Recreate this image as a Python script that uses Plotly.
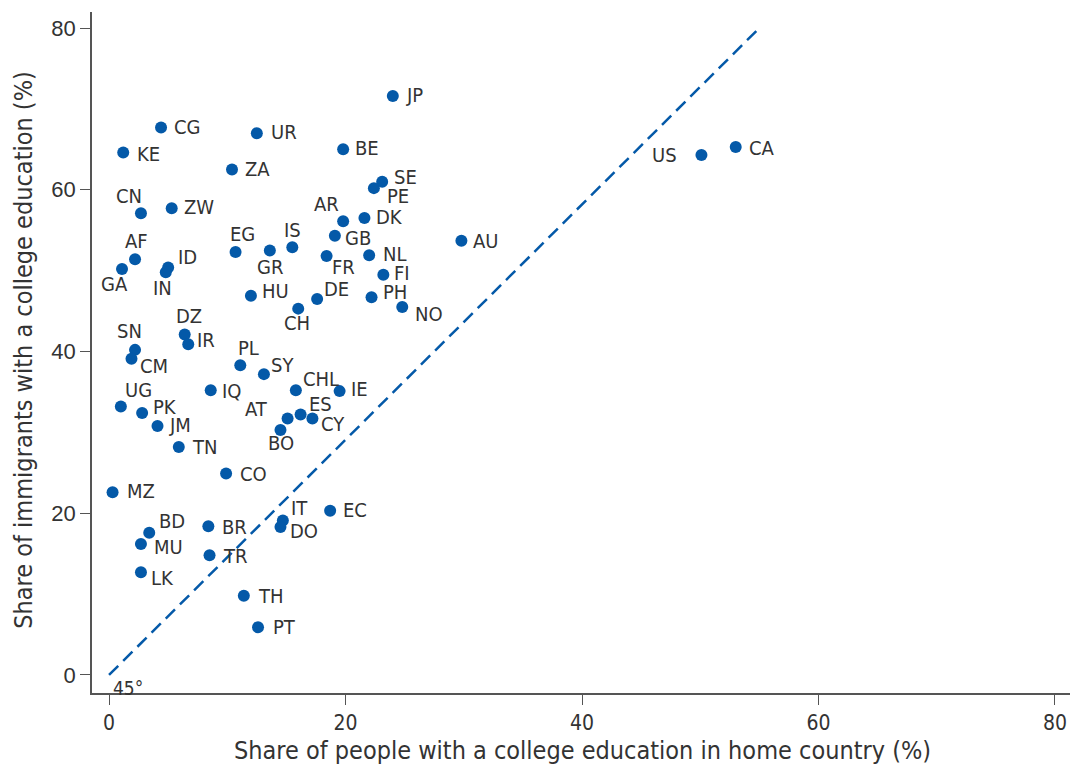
import plotly.graph_objects as go

codes = ["JP","CG","UR","KE","BE","ZA","US","CA","SE","PE","CN","ZW","AR","DK","GB","AU",
         "EG","GR","IS","FR","NL","AF","GA","ID","IN","FI","HU","DE","PH","NO","CH","DZ",
         "IR","SN","CM","PL","SY","IQ","CHL","IE","UG","PK","AT","ES","CY","JM","BO","TN",
         "CO","MZ","EC","IT","DO","BR","BD","MU","TR","LK","TH","PT"]
home_share = [24.0,4.4,12.5,1.2,19.8,10.4,50.1,53.0,23.1,22.4,2.7,5.3,19.8,21.6,19.1,29.8,
              10.7,13.6,15.5,18.4,22.0,2.2,1.1,5.0,4.8,23.2,12.0,17.6,22.2,24.8,16.0,6.4,
              6.7,2.2,1.9,11.1,13.1,8.6,15.8,19.5,1.0,2.8,15.1,16.2,17.2,4.1,14.5,5.9,
              9.9,0.3,18.7,14.7,14.5,8.4,3.4,2.7,8.5,2.7,11.4,12.6]
immig_share = [71.6,67.7,67.0,64.6,65.0,62.5,64.3,65.3,61.0,60.2,57.1,57.7,56.1,56.5,54.3,53.7,
               52.3,52.5,52.9,51.8,51.9,51.4,50.2,50.4,49.8,49.5,46.9,46.5,46.7,45.5,45.3,42.1,
               40.9,40.2,39.1,38.3,37.2,35.2,35.2,35.1,33.2,32.4,31.7,32.2,31.7,30.8,30.3,28.2,
               24.9,22.6,20.3,19.1,18.3,18.4,17.6,16.2,14.8,12.7,9.8,5.9]

diag_x = [0, 55]
diag_y = [0, 80]

x_ticks = [0, 20, 40, 60, 80]
y_ticks = [0, 20, 40, 60, 80]

# label placement (styling): anchor, x offset px, y offset px (down positive)
label_style = {
    "JP": ("l", 12, 0), "CG": ("l", 12, 1), "UR": ("l", 13, 0), "KE": ("l", 13, 2),
    "BE": ("l", 11, 0), "ZA": ("l", 12, 0), "US": ("r", -23, 1), "CA": ("l", 12, 2),
    "SE": ("l", 11, -4), "PE": ("l", 12, 9), "CN": ("c", -12, -16), "ZW": ("l", 11, 0),
    "AR": ("c", -17, -16), "DK": ("l", 11, 0), "GB": ("l", 9, 3), "AU": ("l", 11, 1),
    "EG": ("c", 7, -17), "GR": ("c", 0, 18), "IS": ("c", 0, -16), "FR": ("l", 4, 12),
    "NL": ("l", 13, 0), "AF": ("c", 1, -17), "GA": ("c", -8, 16), "ID": ("l", 9, -9),
    "IN": ("c", -3, 17), "FI": ("l", 10, -1), "HU": ("l", 10, -4), "DE": ("l", 6, -9),
    "PH": ("l", 10, -4), "NO": ("l", 12, 8), "CH": ("c", -1, 15), "DZ": ("c", 4, -18),
    "IR": ("l", 8, -3), "SN": ("c", -6, -18), "CM": ("l", 8, 8), "PL": ("c", 8, -16),
    "SY": ("l", 6, -8), "IQ": ("l", 10, 2), "CHL": ("l", 6, -10), "IE": ("l", 10, -1),
    "UG": ("l", 3, -15), "PK": ("l", 10, -5), "AT": ("r", -19, -9), "ES": ("l", 7, -10),
    "CY": ("l", 8, 6), "JM": ("l", 10, 0), "BO": ("c", 1, 14), "TN": ("l", 12, 1),
    "CO": ("l", 13, 1), "MZ": ("l", 13, 0), "EC": ("l", 12, 0), "IT": ("l", 7, -12),
    "DO": ("l", 9, 5), "BR": ("l", 13, 2), "BD": ("l", 9, -11), "MU": ("l", 12, 4),
    "TR": ("l", 12, 2), "LK": ("l", 9, 7), "TH": ("l", 13, 1), "PT": ("l", 14, 1),
}
ANCH = {"l": "left", "c": "center", "r": "right"}

BLUE = "#0459a8"
TXT = "#333333"
COND = "DejaVu Sans Condensed, Liberation Sans Narrow, sans-serif"

fig = go.Figure()
fig.add_trace(go.Scatter(
    x=diag_x, y=diag_y, mode="lines",
    line=dict(color=BLUE, width=2.5, dash="13px,7px"),
    hoverinfo="skip", showlegend=False,
))
fig.add_trace(go.Scatter(
    x=home_share, y=immig_share, mode="markers",
    text=codes, hovertemplate="%{text}: %{x}, %{y}<extra></extra>",
    marker=dict(color=BLUE, size=12),
    showlegend=False,
))

for c, hx, iy in zip(codes, home_share, immig_share):
    a, dx, dy = label_style.get(c, ("l", 12, 0))
    fig.add_annotation(x=hx, y=iy, xref="x", yref="y", text=c, showarrow=False,
                       xanchor=ANCH[a], yanchor="middle", xshift=dx, yshift=-dy + 1,
                       borderpad=0,
                       font=dict(family=COND, size=20, color=TXT))

fig.add_annotation(x=0, y=0, xref="x", yref="y", text="45°", showarrow=False,
                   xanchor="left", yanchor="top", xshift=3, yshift=-1, borderpad=0,
                   font=dict(family=COND, size=19, color=TXT))

fig.add_annotation(x=40, y=0, xref="x", yref="paper",
                   text="Share of people with a college education in home country (%)",
                   showarrow=False, xanchor="center", yanchor="middle", yshift=-57,
                   font=dict(family=COND, size=25, color=TXT))
fig.add_annotation(x=0, y=0.504, xref="paper", yref="paper",
                   text="Share of immigrants with a college education (%)",
                   showarrow=False, textangle=-90, xanchor="center", yanchor="middle",
                   xshift=-68,
                   font=dict(family=COND, size=25, color=TXT))

fig.update_layout(
    width=1070, height=769,
    margin=dict(l=92, r=0, t=12, b=76, autoexpand=False),
    paper_bgcolor="white", plot_bgcolor="white",
    xaxis=dict(range=[-1.44, 81.27], tickvals=x_ticks, showgrid=False, zeroline=False,
               showline=True, linecolor="#555555", linewidth=1.5,
               ticks="outside", ticklen=10, tickcolor="#555555", tickwidth=1.2,
               tickfont=dict(family=COND, size=21, color=TXT)),
    yaxis=dict(range=[-2.23, 81.98], tickvals=y_ticks, showgrid=False, zeroline=False,
               showline=True, linecolor="#555555", linewidth=1.5,
               ticks="outside", ticklen=10, tickcolor="#555555", tickwidth=1.2,
               tickfont=dict(family="Liberation Sans, Arial, sans-serif", size=22, color=TXT)),
)

# remove the default page margin so the 1070x769 figure fills the window exactly
fig.write_html(
    "out.html",
    config={"displayModeBar": False},
    post_script="document.body.style.margin='0';document.documentElement.style.overflow='hidden';document.body.style.overflow='hidden';",
)
